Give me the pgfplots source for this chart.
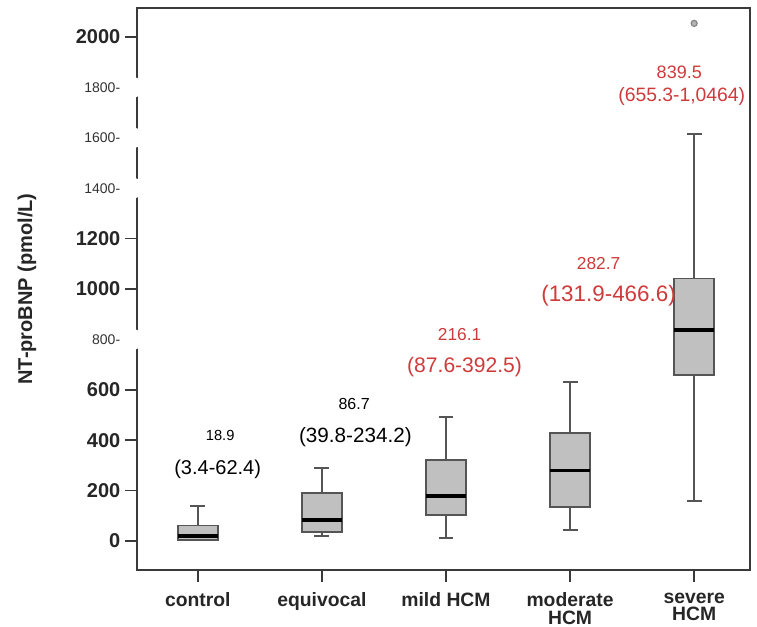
\documentclass[border=0pt]{standalone}
\usepackage{fontspec}
\setmainfont{Liberation Sans}
\usepackage{pgfplots}
\pgfplotsset{compat=1.18}
\usepgfplotslibrary{statistics}
\usetikzlibrary{calc}
\definecolor{boxfill}{HTML}{C0C0C0}
\definecolor{boxdraw}{HTML}{555555}
\definecolor{annred}{HTML}{CF3A3A}
\definecolor{frame}{HTML}{3A3A3A}
\newcommand{\fs}[1]{\fontsize{#1}{#1}\selectfont}
\begin{document}
\begin{tikzpicture}
\begin{axis}[name=ax, scale only axis, width=459.75pt, height=421.5pt,
 xmin=-0.49, xmax=4.45, ymin=-115, ymax=2115,
 axis line style={frame, line width=1.4pt},
 xtick={0,1,2,3,4},
 xticklabels={control, equivocal, mild HCM, moderate\\HCM, severe\\HCM},
 ytick={0,200,400,600,1000,1200,2000},
 tick pos=left, tick align=outside, major tick length=9pt,
 tick style={frame, line width=1.2pt},
 xticklabel style={font=\bfseries\fontsize{14.5}{13.2}\selectfont, align=center, text=black!85, yshift=-4.5pt},
 yticklabel style={font=\bfseries\fs{15}, text=black!85},
 /pgf/number format/assume math mode=true,
 /pgf/number format/1000 sep={},
 boxplot/draw direction=y,
 boxplot/box extend=0.32,
 boxplot/whisker extend=0.12,
 clip=false,
]
\pgfplotsset{myb/.style={fill=boxfill, draw=boxdraw, line width=1.3pt, solid,
  boxplot/every median/.style={draw=black, line width=2.6pt}}}
\addplot[myb, boxplot prepared={lower whisker=2, lower quartile=3, median=19, upper quartile=62, upper whisker=140, draw position=0}] coordinates {};
\addplot[myb, boxplot prepared={lower whisker=21, lower quartile=37, median=83, upper quartile=190, upper whisker=290, draw position=1}] coordinates {};
\addplot[myb, boxplot prepared={lower whisker=13, lower quartile=103, median=179, upper quartile=321, upper whisker=493, draw position=2}] coordinates {};
\addplot[myb, boxplot prepared={lower whisker=44, lower quartile=136, median=279, upper quartile=430, upper whisker=630, draw position=3}] coordinates {};
\addplot[myb, mark=*, mark size=2.3pt, mark options={fill=gray!60, draw=gray, line width=0.8pt}, boxplot prepared={lower whisker=160, lower quartile=659, median=837, upper quartile=1042, upper whisker=1615, draw position=4}] coordinates {(4,2054)};

\node[font=\fs{11}] at (axis cs:0.18,417) {18.9};
\node[font=\fs{15}] at (axis cs:0.16,286) {(3.4-62.4)};
\node[font=\fs{12}] at (axis cs:1.26,544) {86.7};
\node[font=\fs{15.5}] at (axis cs:1.27,413) {(39.8-234.2)};
\node[font=\fs{13}, text=annred] at (axis cs:2.11,821) {216.1};
\node[font=\fs{15.8}, text=annred] at (axis cs:2.15,690) {(87.6-392.5)};
\node[font=\fs{13}, text=annred] at (axis cs:3.23,1103) {282.7};
\node[font=\fs{16.8}, text=annred] at (axis cs:3.31,972) {(131.9-466.6)};
\node[font=\fs{13.5}, text=annred] at (axis cs:3.88,1861) {839.5};
\node[font=\fs{14.5}, text=annred] at (axis cs:3.90,1762) {(655.3-1,0464)};

\coordinate (SW) at (rel axis cs:0,0);
\coordinate (NE) at (rel axis cs:1,1);
\coordinate (t1800) at (axis cs:-0.49,1800);
\coordinate (t1600) at (axis cs:-0.49,1600);
\coordinate (t1400) at (axis cs:-0.49,1400);
\coordinate (t800) at (axis cs:-0.49,800);
\end{axis}
\foreach \n/\lab in {t1800/1800-, t1600/1600-, t1400/1400-, t800/800-}
  \node[anchor=east, fill=white, rounded corners=3pt, inner xsep=14pt, inner ysep=4pt,
        font=\fs{10.5}, text=black!80] at ($(\n)+(1.6pt,0)$) {\lab};
\node[rotate=90, font=\bfseries\fs{15}, text=black!85] at ($(SW)+(-82.5pt,210.75pt)$) {NT-proBNP (pmol/L)};
\pgfresetboundingbox
\path[use as bounding box] ($(SW)+(-102.75pt,-42.75pt)$) rectangle ($(NE)+(5.25pt,6pt)$);
\end{tikzpicture}
\end{document}
